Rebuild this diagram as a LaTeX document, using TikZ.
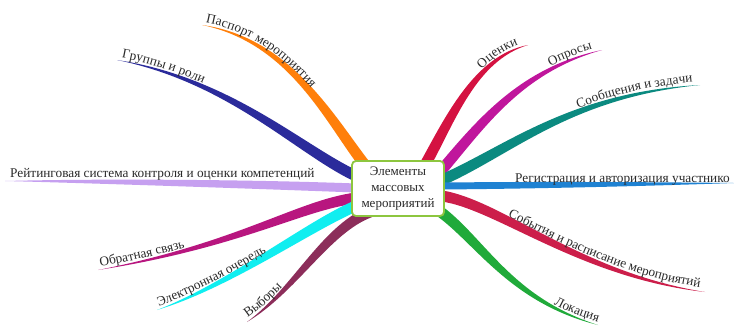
\documentclass[tikz,border=0pt]{standalone}
\usepackage{fontspec}
\setmainfont{Liberation Serif}
\usetikzlibrary{calc,decorations.text}
\definecolor{cOrange}{HTML}{FF7F0A}
\definecolor{cNavy}{HTML}{2B2B9B}
\definecolor{cLav}{HTML}{C6A0F0}
\definecolor{cPurp}{HTML}{B8167F}
\definecolor{cCyan}{HTML}{10EEF0}
\definecolor{cWine}{HTML}{8C2D5A}
\definecolor{cCrim}{HTML}{D41241}
\definecolor{cMag}{HTML}{C0169C}
\definecolor{cTeal}{HTML}{0B8A80}
\definecolor{cBlue}{HTML}{1F82D2}
\definecolor{cRose}{HTML}{CC1E4A}
\definecolor{cGreen}{HTML}{20AA3A}
\definecolor{boxgreen}{HTML}{8DC63F}
\definecolor{txt}{HTML}{2A2A2A}
\newcommand\lbl{\fontsize{13.3}{15}\selectfont\color{txt}}
% color, start, ctrl1, ctrl2, tip, half width
\newcommand\branch[6]{%
  \fill[#1] ($(#2)!#6pt!90:(#3)$) .. controls ($(#3)!1.0*#6pt!90:(#4)$) and ($(#4)!0.55*#6pt!90:(#5)$) .. (#5)
    .. controls ($(#4)!0.55*#6pt!-90:(#5)$) and ($(#3)!1.0*#6pt!-90:(#4)$) .. ($(#2)!#6pt!-90:(#3)$) -- cycle;}
% text, path, raise, left indent
\newcommand\alongL[4]{%
  \path[decorate,decoration={text along path,text={|\lbl|#1},raise=#3,text align={left,left indent=#4}}] #2;}
\newcommand\alongR[4]{%
  \path[decorate,decoration={text along path,text={|\lbl|#1},raise=#3,text align={right,right indent=#4}}] #2;}
\begin{document}
\begin{tikzpicture}[x=1pt,y=-1pt]
\useasboundingbox (0,0) rectangle (734,325);
\fill[white] (0,0) rectangle (734,325);
% start points (under the central node) and tips
\coordinate (s1) at (365,165); \coordinate (t1) at (202,25);
\coordinate (s2) at (356,176); \coordinate (t2) at (117,60);
\coordinate (s3) at (356,188); \coordinate (t3) at (5,181);
\coordinate (s4) at (356,198); \coordinate (t4) at (98,270);
\coordinate (s5) at (358,205); \coordinate (t5) at (157,310);
\coordinate (s6) at (370,212); \coordinate (t6) at (247,322);
\coordinate (s7) at (425,165); \coordinate (t7) at (528,45);
\coordinate (s8) at (440,172); \coordinate (t8) at (602,50);
\coordinate (s9) at (442,180); \coordinate (t9) at (700,85);
\coordinate (s10) at (442,186); \coordinate (t10) at (734,183);
\coordinate (s11) at (442,196); \coordinate (t11) at (705,292);
\coordinate (s12) at (438,210); \coordinate (t12) at (598,325);
% branches
\branch{cOrange}{s1}{330,120}{290,40}{t1}{5.5}
\branch{cNavy}{s2}{300,150}{230,80}{t2}{5.5}
\branch{cLav}{s3}{250,184}{100,181}{t3}{4.5}
\branch{cPurp}{s4}{300,205}{240,245}{t4}{5.5}
\branch{cCyan}{s5}{310,225}{230,285}{t5}{5.5}
\branch{cWine}{s6}{325,230}{295,290}{t6}{5.5}
\branch{cCrim}{s7}{450,120}{475,58}{t7}{5.5}
\branch{cMag}{s8}{480,125}{520,70}{t8}{5.5}
\branch{cTeal}{s9}{510,150}{570,95}{t9}{5.5}
\branch{cBlue}{s10}{550,185}{650,184}{t10}{3.5}
\branch{cRose}{s11}{500,205}{580,275}{t11}{5.5}
\branch{cGreen}{s12}{480,240}{510,300}{t12}{5.5}
% labels
\alongL{Паспорт мероприятия}{(t1) .. controls (290,40) and (330,120) .. (s1)}{3pt}{3pt}
\alongL{Группы и роли}{(t2) .. controls (230,80) and (300,150) .. (s2)}{3pt}{4pt}
\node[anchor=base west,inner sep=0pt,font=\lbl] (l3) at (10,177) {Рейтинговая система контроля и оценки компетенций};
\alongL{Обратная связь}{(t4) .. controls (240,245) and (300,205) .. (s4)}{3pt}{3pt}
\alongL{Электронная очередь}{(t5) .. controls (230,285) and (310,225) .. (s5)}{3pt}{3pt}
\alongL{Выборы}{(t6) .. controls (295,290) and (325,230) .. (s6)}{3pt}{3pt}
\alongR{Оценки}{(s7) .. controls (450,120) and (475,58) .. (t7)}{3pt}{9pt}
\alongR{Опросы}{(s8) .. controls (480,125) and (520,70) .. (t8)}{3pt}{9pt}
\alongR{Сообщения и задачи}{(s9) .. controls (510,150) and (570,95) .. (t9)}{3.5pt}{7pt}
\node[anchor=base east,inner sep=0pt,font=\lbl] (l10) at (730,182) {Регистрация и авторизация участнико};
\alongR{События и расписание мероприятий}{(s11) .. controls (500,205) and (580,275) .. (t11)}{4pt}{6pt}
\alongR{Локация}{(s12) .. controls (480,240) and (510,300) .. (t12)}{3pt}{1pt}
% central node
\node[draw=boxgreen,line width=1.8pt,rounded corners=4pt,fill=white,minimum width=92pt,minimum height=55pt,
  align=center,inner sep=2pt,font=\fontsize{13}{16}\selectfont\color{txt}] (c) at (398,188.5) {Элементы\\массовых\\мероприятий};
\end{tikzpicture}
\end{document}
